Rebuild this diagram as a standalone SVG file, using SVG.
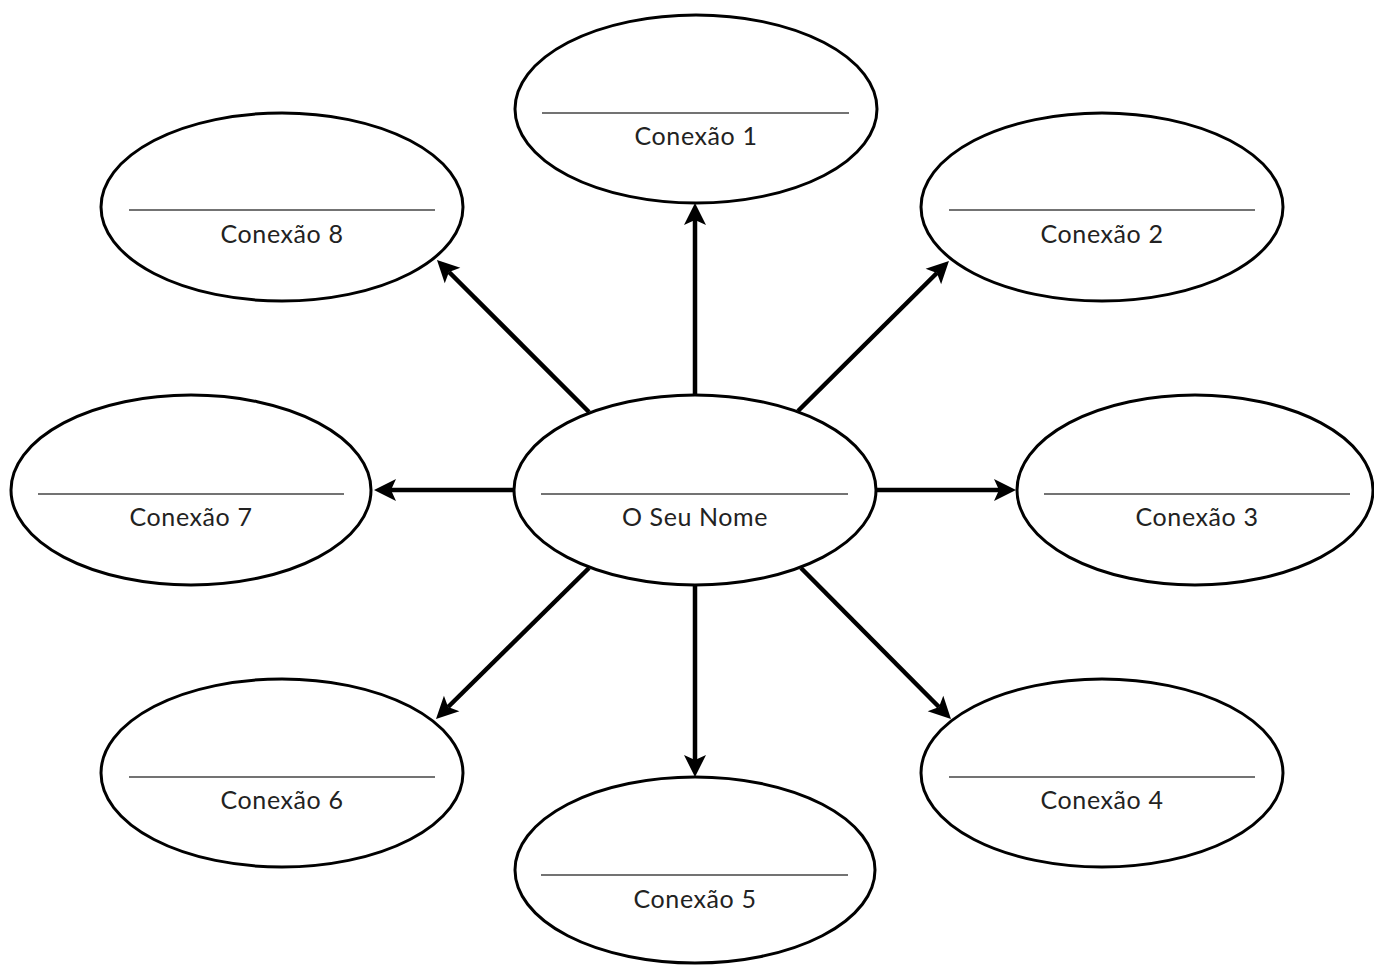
<svg xmlns="http://www.w3.org/2000/svg" width="1374" height="965" viewBox="0 0 1374 965">
<style>
.node ellipse{fill:#fff;stroke:#000;stroke-width:3}
.node line{stroke:#444;stroke-width:1.5}
.node text{font-family:Lato,"Liberation Sans",sans-serif;font-size:25px;letter-spacing:0.6px;fill:#222;text-anchor:middle}
.conn line{stroke:#000;stroke-width:4.5;marker-end:url(#arr)}
</style>
<defs>
<marker id="arr" markerUnits="userSpaceOnUse" markerWidth="24" markerHeight="24" refX="5" refY="11" orient="auto" overflow="visible">
<path d="M0,0 L22,11 L0,22 L5,11 Z" fill="#000"/>
</marker>
</defs>
<rect width="1374" height="965" fill="#fff"/>
<g id="connectors" class="conn">
<line x1="695" y1="395" x2="695" y2="220"/>
<line x1="798" y1="411" x2="936.9" y2="273.0"/>
<line x1="589" y1="412" x2="449.0" y2="272.0"/>
<line x1="876" y1="490" x2="999" y2="490"/>
<line x1="514" y1="490" x2="391" y2="490"/>
<line x1="589" y1="568" x2="448.1" y2="707.0"/>
<line x1="695" y1="585" x2="695" y2="760"/>
<line x1="801" y1="568" x2="939.0" y2="707.0"/>
</g>
<g id="center" class="node">
<ellipse cx="695" cy="490" rx="181" ry="95"/>
<line x1="541" y1="494" x2="848" y2="494"/>
<text x="695" y="526">O Seu Nome</text>
</g>
<g id="conexao1" class="node">
<ellipse cx="696" cy="109" rx="181" ry="94"/>
<line x1="542" y1="113" x2="849" y2="113"/>
<text x="696" y="145">Conexão 1</text>
</g>
<g id="conexao2" class="node">
<ellipse cx="1102" cy="207" rx="181" ry="94"/>
<line x1="949" y1="210" x2="1255" y2="210"/>
<text x="1102" y="243">Conexão 2</text>
</g>
<g id="conexao3" class="node">
<ellipse cx="1195" cy="490" rx="178" ry="95"/>
<line x1="1044" y1="494" x2="1350" y2="494"/>
<text x="1197" y="526">Conexão 3</text>
</g>
<g id="conexao4" class="node">
<ellipse cx="1102" cy="773" rx="181" ry="94"/>
<line x1="949" y1="777" x2="1255" y2="777"/>
<text x="1102" y="809">Conexão 4</text>
</g>
<g id="conexao5" class="node">
<ellipse cx="695" cy="870" rx="180" ry="93"/>
<line x1="541" y1="875" x2="848" y2="875"/>
<text x="695" y="908">Conexão 5</text>
</g>
<g id="conexao6" class="node">
<ellipse cx="282" cy="773" rx="181" ry="94"/>
<line x1="129" y1="777" x2="435" y2="777"/>
<text x="282" y="809">Conexão 6</text>
</g>
<g id="conexao7" class="node">
<ellipse cx="191" cy="490" rx="180" ry="95"/>
<line x1="38" y1="494" x2="344" y2="494"/>
<text x="191" y="526">Conexão 7</text>
</g>
<g id="conexao8" class="node">
<ellipse cx="282" cy="207" rx="181" ry="94"/>
<line x1="129" y1="210" x2="435" y2="210"/>
<text x="282" y="243">Conexão 8</text>
</g>
</svg>
